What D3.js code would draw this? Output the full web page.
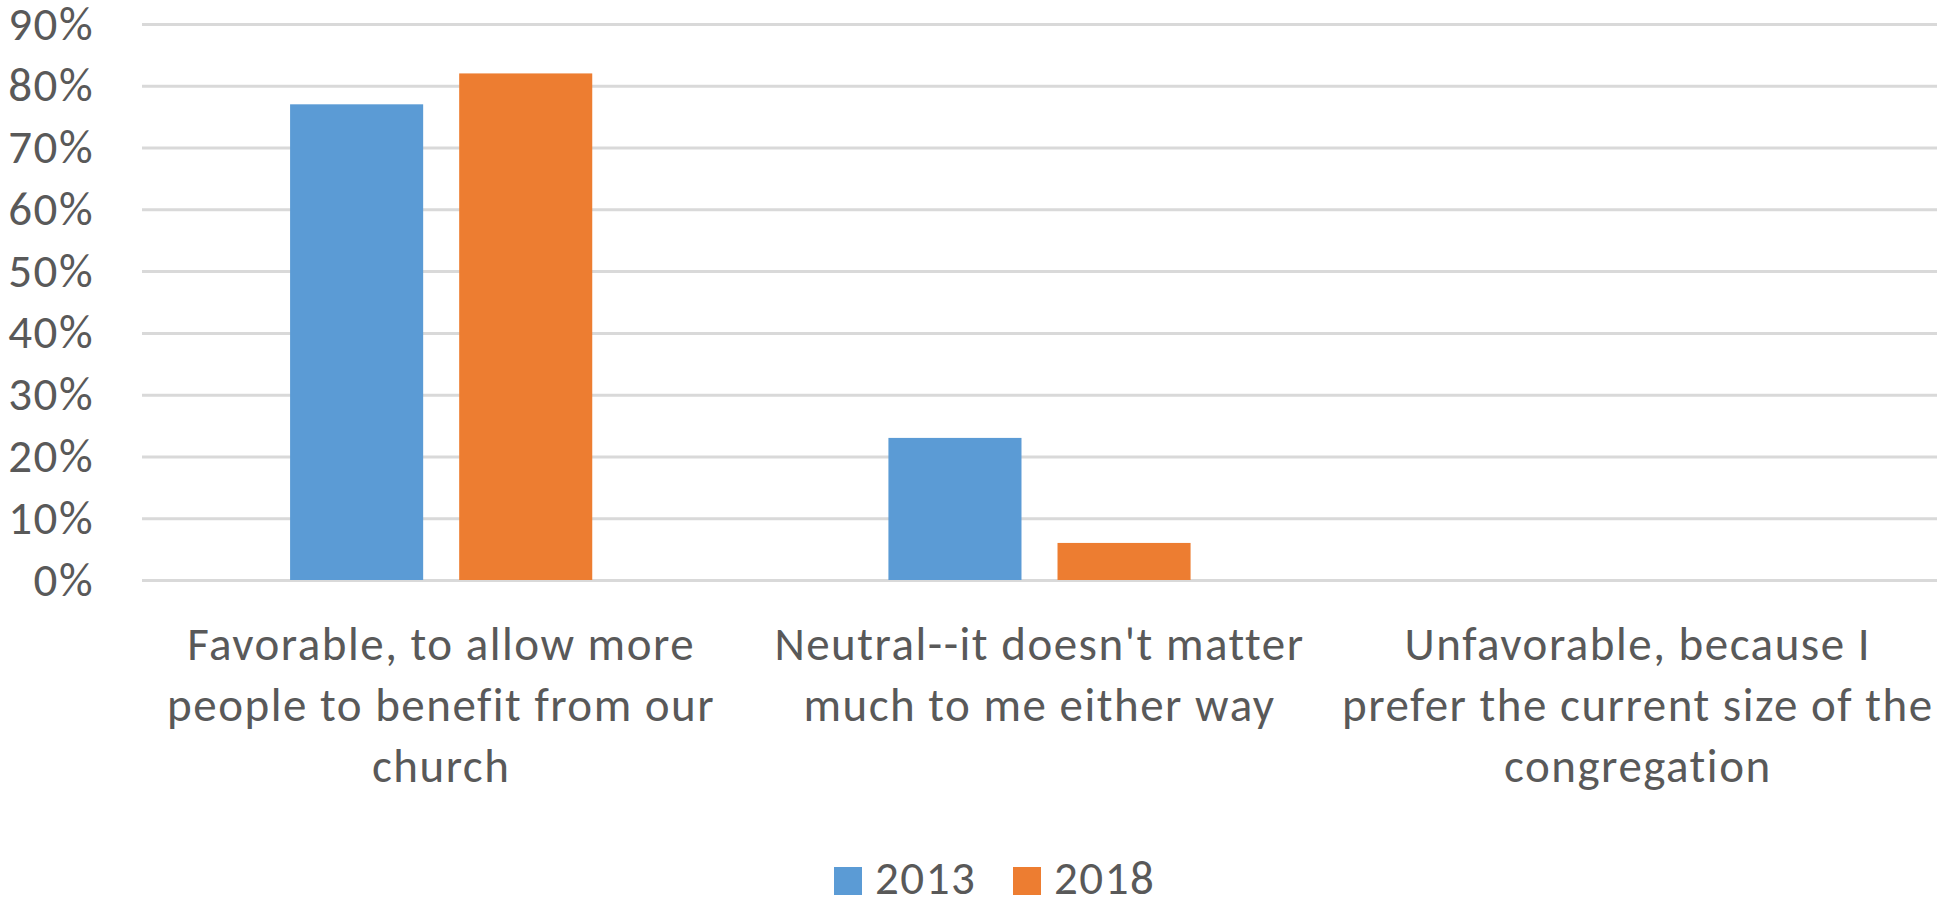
<!DOCTYPE html>
<html>
<head>
<meta charset="utf-8">
<script src="https://cdn.jsdelivr.net/npm/d3@7"></script>
<style>
  html, body { margin: 0; padding: 0; background: #ffffff; }
  svg { display: block; }
  text { font-family: Carlito, Lato, "Open Sans", sans-serif; fill: #595959; letter-spacing: 1.5px; }
</style>
</head>
<body>
<svg id="chart" width="1944" height="902"></svg>
<script>
// Survey responses, share of respondents per answer
const categories = [
  "Favorable, to allow more people to benefit from our church",
  "Neutral--it doesn't matter much to me either way",
  "Unfavorable, because I prefer the current size of the congregation"
];
const categoryLines = [
  ["Favorable, to allow more", "people to benefit from our", "church"],
  ["Neutral--it doesn't matter", "much to me either way"],
  ["Unfavorable, because I", "prefer the current size of the", "congregation"]
];
const years = ["2013", "2018"];
const values2013 = [0.77, 0.23, 0];
const values2018 = [0.82, 0.06, 0];
const yTicks = [0, 0.1, 0.2, 0.3, 0.4, 0.5, 0.6, 0.7, 0.8, 0.9];
const colors = { "2013": "#5b9bd5", "2018": "#ed7d31" };

const seriesValues = { "2013": values2013, "2018": values2018 };

const svg = d3.select("#chart");
const fontSize = 47;

const plot = { left: 142, right: 1937, top: 24, bottom: 580 };

const x0 = d3.scaleBand()
  .domain(categories)
  .range([plot.left, plot.right])
  .paddingInner(0)
  .paddingOuter(0);

const bw = x0.bandwidth();
const groupW = bw * 0.505;
const x1 = d3.scaleBand()
  .domain(years)
  .range([(bw - groupW) / 2, (bw + groupW) / 2])
  .paddingInner(0.213)
  .paddingOuter(0);

const y = d3.scaleLinear().domain([0, 0.9]).range([plot.bottom, plot.top]);

// Horizontal gridlines with percentage labels
const yAxis = d3.axisLeft(y)
  .tickValues(yTicks)
  .tickFormat(d3.format(".0%"))
  .tickSize(-(plot.right - plot.left))
  .tickPadding(48);

const gy = svg.append("g")
  .attr("transform", `translate(${plot.left},0)`)
  .call(yAxis);
gy.select(".domain").remove();
gy.selectAll(".tick line").attr("stroke", "#d9d9d9").attr("stroke-width", 3);
gy.selectAll(".tick text")
  .attr("font-size", fontSize)
  .attr("fill", "#595959")
  .attr("font-family", null);

// Bars
const groups = svg.append("g").selectAll("g")
  .data(categories)
  .join("g")
  .attr("transform", d => `translate(${x0(d)},0)`);

groups.selectAll("rect")
  .data((d, i) => years.map(yr => ({ year: yr, value: seriesValues[yr][i] })))
  .join("rect")
  .attr("x", d => x1(d.year))
  .attr("width", x1.bandwidth())
  .attr("y", d => y(d.value))
  .attr("height", d => y(0) - y(d.value))
  .attr("fill", d => colors[d.year]);

// Category labels, wrapped over several lines
const lineH = 61;
svg.append("g").selectAll("text")
  .data(categories)
  .join("text")
  .attr("text-anchor", "middle")
  .attr("font-size", fontSize)
  .each(function (d, i) {
    const t = d3.select(this);
    categoryLines[i].forEach((ln, k) => {
      t.append("tspan")
        .attr("x", x0(d) + bw / 2)
        .attr("y", 660 + k * lineH)
        .text(ln);
    });
  });

// Legend
const legend = svg.append("g");
const legendX = [834, 1013];
years.forEach((yr, i) => {
  legend.append("rect")
    .attr("x", legendX[i]).attr("y", 867)
    .attr("width", 28).attr("height", 28)
    .attr("fill", colors[yr]);
  legend.append("text")
    .attr("x", legendX[i] + 41).attr("y", 894)
    .attr("font-size", fontSize)
    .text(yr);
});
</script>
</body>
</html>
